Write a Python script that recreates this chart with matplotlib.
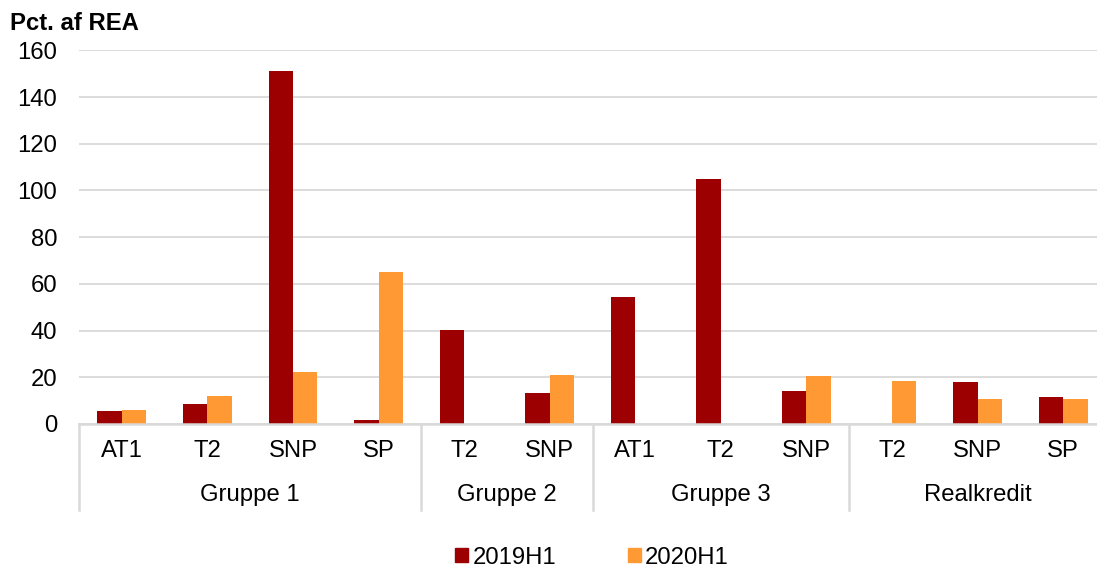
import numpy as np
import matplotlib
matplotlib.use("Agg")
import matplotlib.pyplot as plt
from matplotlib.patches import Patch
from matplotlib.transforms import blended_transform_factory

plt.rcParams['font.family'] = ['Liberation Sans', 'DejaVu Sans']

categories = ["AT1", "T2", "SNP", "SP", "T2", "SNP", "AT1", "T2", "SNP", "T2", "SNP", "SP"]
groups = ["Gruppe 1", "Gruppe 2", "Gruppe 3", "Realkredit"]
group_sizes = [4, 2, 3, 3]
s2019 = [5.4, 8.6, 151.1, 1.5, 40.4, 13.4, 54.3, 104.9, 14.3, np.nan, 17.9, 11.6]
s2020 = [5.9, 12.0, 22.3, 65.0, np.nan, 21.1, np.nan, np.nan, 20.7, 18.3, 10.7, 10.7]
series_names = ["2019H1", "2020H1"]
colors = ["#9C0000", "#FF9933"]
yticks = [0, 20, 40, 60, 80, 100, 120, 140, 160]

FS = 17.2
W, H = 1097, 569
fig = plt.figure(figsize=(W / 100, H / 100), dpi=100)
left, right, bottom, top = 79, 1106, 424, 50.3
ax = fig.add_axes([left / W, (H - bottom) / H, (right - left) / W, (bottom - top) / H])

n = len(categories)
x = np.arange(n)
bw = 0.285
ax.bar(x - bw / 2, s2019, bw, color=colors[0], label=series_names[0], zorder=3)
ax.bar(x + bw / 2, s2020, bw, color=colors[1], label=series_names[1], zorder=3)

ax.set_xlim(-0.5, n - 0.5)
ax.set_ylim(0, 160)
ax.set_yticks(yticks)
ax.tick_params(axis='y', length=0, labelsize=FS, pad=15.8)
ax.set_xticks([])
for sp in ax.spines.values():
    sp.set_visible(False)
ax.yaxis.grid(True, color="#D9D9D9", linewidth=1.3, zorder=0)
ax.set_axisbelow(True)
ax.axhline(0, color="#D9D9D9", linewidth=1.8, zorder=4, clip_on=False)

trans = blended_transform_factory(ax.transData, ax.transAxes)
px = 1.0 / (bottom - top)
cat_y = -(451 - bottom) * px
grp_y = -(495 - bottom) * px
line_bot = -(510 - bottom) * px

for i, c in enumerate(categories):
    ax.text(i, cat_y, c, transform=trans, ha='center', va='center', fontsize=FS, color='black')

start = 0
edges = [-0.5]
for g, sz in zip(groups, group_sizes):
    centre = start + sz / 2 - 0.5
    ax.text(centre, grp_y, g, transform=trans, ha='center', va='center', fontsize=FS, color='black')
    start += sz
    edges.append(start - 0.5)
for e in edges:
    ax.plot([e, e], [0, line_bot], transform=trans, color="#D9D9D9", linewidth=1.8, clip_on=False)

fig.text(10 / W, (H - 24) / H, "Pct. af REA", fontsize=FS, fontweight='bold', ha='left', va='center')

handles = [Patch(color=colors[0], label=series_names[0]), Patch(color=colors[1], label=series_names[1])]
fig.legend(handles=handles, loc='center', bbox_to_anchor=(592 / W, (H - 557.5) / H), ncol=2,
           frameon=False, fontsize=FS, handlelength=0.55, handleheight=0.55,
           handletextpad=0.17, columnspacing=3.0, borderpad=0)

fig.savefig("out.png", dpi=100)
